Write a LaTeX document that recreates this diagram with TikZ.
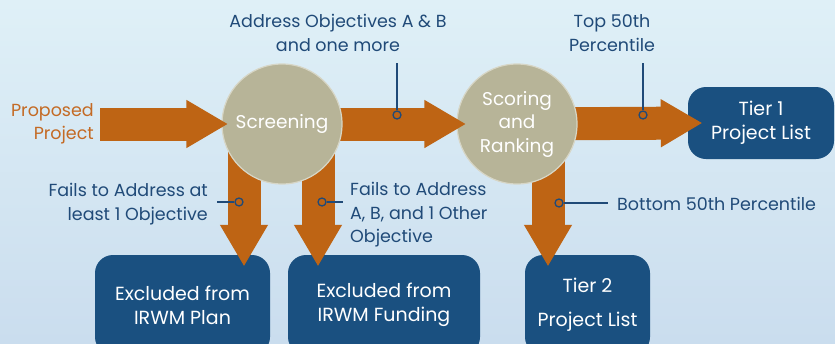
\documentclass[tikz,border=0pt]{standalone}
\usepackage{fontspec}
\setmainfont{Poppins}
\usetikzlibrary{arrows.meta,positioning,calc}
\definecolor{bgtop}{RGB}{223,240,247}
\definecolor{bgbottom}{RGB}{202,221,238}
\definecolor{tierblue}{RGB}{26,80,128}
\definecolor{labelblue}{RGB}{32,74,120}
\definecolor{flowgold}{RGB}{190,100,20}
\definecolor{stonegray}{RGB}{183,180,152}
\definecolor{inputorange}{RGB}{196,106,36}
\pgfdeclarelayer{bg}
\pgfdeclarelayer{under}
\pgfsetlayers{bg,under,main}

\begin{document}
\begin{tikzpicture}[
    x=1pt, y=-1pt,
    stage/.style={circle, fill=stonegray, draw=stonegray!55!white, line width=1.2pt, minimum size=120pt, inner sep=0pt, text=white, align=center, font=\fontsize{18.5}{23.5}\selectfont},
    tier/.style={rectangle, rounded corners=18pt, fill=tierblue, text=white, align=center, inner sep=0pt, font=\fontsize{19}{24}\selectfont},
    note/.style={text=labelblue, inner sep=0pt, font=\fontsize{17.5}{23.5}\selectfont},
    fat/.style={draw=flowgold, line width=33pt, -{Triangle[width=48pt,length=41pt,line width=1.2pt]}},
    leader/.style={draw=labelblue, line width=1.3pt},
    dot/.style={circle, draw=labelblue, fill=flowgold, line width=1.3pt, minimum size=8pt, inner sep=0pt}
]
    \useasboundingbox (0,0) rectangle (835,343);

    % Background and output boxes
    \begin{pgfonlayer}{bg}
        \shade[top color=bgtop, bottom color=bgbottom] (0,0) rectangle (835,343);
        \node[tier, minimum width=146pt, minimum height=72pt] (tier1) at (761,123) {Tier 1\\Project List};
        \node[tier, minimum width=125pt, minimum height=100pt] (tier2) at (587.5,305) {Tier 2\\[10pt]Project List};
    \end{pgfonlayer}

    % Stages
    \node[stage] (screen) at (282,124) {Screening};
    \begin{pgfonlayer}{under}
        \node[stage] (score) at (517,124) {Scoring\\and\\Ranking};
        \node[tier, minimum width=175pt, minimum height=100pt] (plan) at (182.5,305) {Excluded from\\IRWM Plan};
        \node[tier, minimum width=192pt, minimum height=100pt] (fund) at (384,305) {Excluded from\\IRWM Funding};
    \end{pgfonlayer}

    % Input
    \node[note, text=inputorange, align=right, anchor=east] (prop) at (94,124) {Proposed\\Project};

    % Flow arrows
    \draw[fat] ([xshift=6pt]prop.east) -- ([xshift=6pt]screen.west);
    \begin{pgfonlayer}{under}
        \draw[fat] (screen.center) -- ([xshift=9pt]score.west);
        \draw[fat] ([xshift=-38pt]screen.center) -- ([xshift=-38pt,yshift=-11pt]screen.center |- plan.north);
        \draw[fat] ([xshift=36pt]screen.center) -- ([xshift=36pt,yshift=-11pt]screen.center |- fund.north);
    \end{pgfonlayer}
    \begin{pgfonlayer}{bg}
        \draw[fat] (score.center) -- ([xshift=14pt]tier1.west);
        \draw[fat] ([xshift=31pt]score.center) -- ([xshift=31pt,yshift=-11pt]score.center |- tier2.north);
    \end{pgfonlayer}

    % Annotations
    \node[note, align=center] (addr) at (338,33) {Address Objectives A \& B\\and one more};
    \node[note, align=center] (top50) at (612,33) {Top 50th\\Percentile};
    \node[note, align=right, anchor=east] (fails1) at (208,204) {Fails to Address at\\least 1 Objective};
    \node[note, align=left, anchor=west] (fails2) at (350,215) {Fails to Address\\A, B, and 1 Other\\Objective};
    \node[note, anchor=west] (bottom50) at (617,204) {Bottom 50th Percentile};

    \node[dot] (d1) at (397,115) {};
    \node[dot] (d2) at (643,115) {};
    \node[dot] (d3) at (239,202) {};
    \node[dot] (d4) at (322,202) {};
    \node[dot] (d5) at (559,203) {};
    \coordinate (c1) at (397,63);
    \coordinate (c2) at (643,63);
    \coordinate (c3) at (217,202);
    \coordinate (c4) at (343,202);
    \coordinate (c5) at (608,203);
    \draw[leader] (c1) -- (d1);
    \draw[leader] (c2) -- (d2);
    \draw[leader] (c3) -- (d3);
    \draw[leader] (d4) -- (c4);
    \draw[leader] (d5) -- (c5);
\end{tikzpicture}
\end{document}
